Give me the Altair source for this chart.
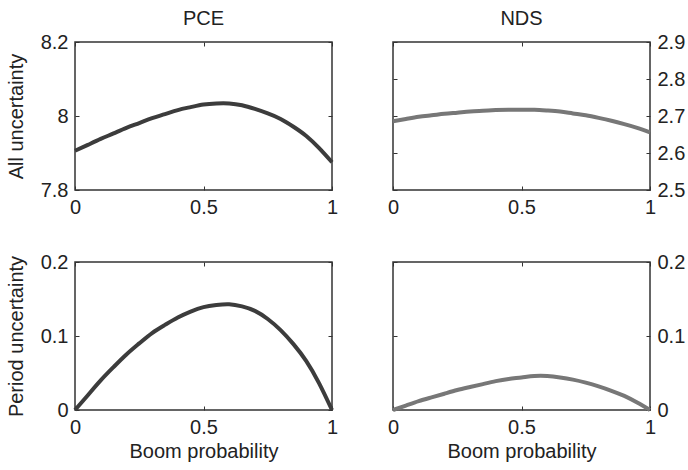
import altair as alt
import pandas as pd

# Boom probability grid
p = [0.0, 0.05, 0.1, 0.15, 0.2, 0.25, 0.3, 0.35, 0.4, 0.45, 0.5,
     0.55, 0.6, 0.65, 0.7, 0.75, 0.8, 0.85, 0.9, 0.95, 1.0]

# All uncertainty
pce_all = [7.906, 7.922, 7.938, 7.953, 7.968, 7.981, 7.994, 8.005, 8.016, 8.024, 8.031,
           8.034, 8.034, 8.029, 8.019, 8.007, 7.992, 7.971, 7.946, 7.913, 7.875]
nds_all = [2.686, 2.692, 2.698, 2.702, 2.706, 2.709, 2.712, 2.714, 2.716, 2.717, 2.717,
           2.717, 2.715, 2.712, 2.707, 2.702, 2.695, 2.687, 2.678, 2.668, 2.656]

# Period uncertainty
pce_period = [0.0, 0.020, 0.040, 0.058, 0.075, 0.090, 0.104, 0.115, 0.125, 0.133, 0.139,
              0.142, 0.143, 0.140, 0.134, 0.123, 0.108, 0.089, 0.066, 0.036, 0.0]
nds_period = [0.0, 0.006, 0.012, 0.017, 0.022, 0.027, 0.031, 0.035, 0.039, 0.042, 0.044,
              0.046, 0.046, 0.044, 0.041, 0.037, 0.032, 0.026, 0.019, 0.010, 0.0]

x_ticks = [0, 0.5, 1]
all_pce_ticks = [7.8, 8.0, 8.2]
all_nds_ticks = [2.5, 2.6, 2.7, 2.8, 2.9]
period_ticks = [0, 0.1, 0.2]

FONT = "Liberation Sans"
FS = 20
TXT = "#222222"
W, H = 257, 148
TICK = 4


def panel(yvals, color, ydomain, yticks, side, ytitle=None, xtitle=None, title=None):
    df = pd.DataFrame({"p": p, "v": yvals})
    other = "right" if side == "left" else "left"
    xscale = alt.Scale(domain=[0, 1], nice=False, zero=False)
    yscale = alt.Scale(domain=ydomain, nice=False, zero=False)
    main = alt.Chart(df).mark_line(color=color, strokeWidth=4, interpolate="natural").encode(
        x=alt.X("p:Q", scale=xscale,
                axis=alt.Axis(orient="bottom", values=x_ticks, format="~g", title=xtitle,
                              offset=-TICK, tickSize=TICK, domain=False, grid=False,
                              labelPadding=7, titlePadding=4, labelFlush=False,
                              minExtent=0)),
        y=alt.Y("v:Q", scale=yscale,
                axis=alt.Axis(orient=side, values=yticks, format="~g", title=ytitle,
                              offset=-TICK, tickSize=TICK, domain=False, grid=False,
                              labelPadding=7, titlePadding=14, labelFlush=False,
                              minExtent=0)),
    )
    ghost = alt.Chart(df).mark_line(opacity=0).encode(
        x=alt.X("p:Q", scale=xscale,
                axis=alt.Axis(orient="top", values=x_ticks, labels=False, title=None,
                              offset=-TICK, tickSize=TICK, domain=False, grid=False,
                              minExtent=0, maxExtent=0)),
        y=alt.Y("v:Q", scale=yscale,
                axis=alt.Axis(orient=other, values=yticks, labels=False, title=None,
                              offset=-TICK, tickSize=TICK, domain=False, grid=False,
                              minExtent=0, maxExtent=0)),
    )
    ch = alt.layer(main, ghost).resolve_scale(x="independent", y="independent")
    if title:
        ch = ch.properties(width=W, height=H,
                           title=alt.Title(title, font=FONT, fontSize=FS, fontWeight="normal",
                                           color=TXT, offset=3))
    else:
        ch = ch.properties(width=W, height=H)
    return ch


DARK = "#3c3c3c"
LIGHT = "#777777"

tl = panel(pce_all, DARK, [7.8, 8.2], all_pce_ticks, "left", ytitle="All uncertainty", title="PCE")
tr = panel(nds_all, LIGHT, [2.5, 2.9], all_nds_ticks, "right", title="NDS")
bl = panel(pce_period, DARK, [0, 0.2], period_ticks, "left", ytitle="Period uncertainty",
           xtitle="Boom probability")
br = panel(nds_period, LIGHT, [0, 0.2], period_ticks, "right", xtitle="Boom probability")

chart = alt.vconcat(
    alt.hconcat(tl, tr, spacing=43),
    alt.hconcat(bl, br, spacing=43),
    spacing=33,
).properties(
    padding={"left": 5, "top": 8, "right": 0, "bottom": 0}
).configure(
    background="white"
).configure_view(
    stroke="#333333", strokeWidth=1.5
).configure_title(
    font=FONT, fontSize=FS, fontWeight="normal", color=TXT
).configure_axis(
    labelFont=FONT, labelFontSize=FS, labelColor=TXT,
    titleFont=FONT, titleFontSize=FS, titleColor=TXT, titleFontWeight="normal",
    tickColor="#333333", tickWidth=1,
)

chart.save("out.html", embed_options={"renderer": "svg", "actions": False})
